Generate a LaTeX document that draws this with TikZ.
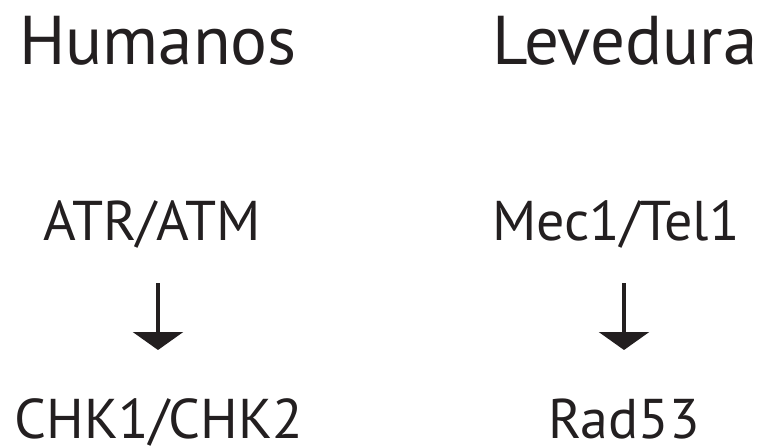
\documentclass[tikz,border=0pt]{standalone}
\usepackage{fontspec}
\setmainfont{PT Sans}
\usetikzlibrary{arrows.meta}
\definecolor{ink}{HTML}{231F20}
\tikzset{
  heading/.style={anchor=base, inner sep=0pt, text=ink, font=\fontsize{69}{69}\selectfont},
  gene/.style={anchor=base, inner sep=0pt, text=ink, font=\fontsize{56}{56}\selectfont},
  flow/.style={draw=ink, fill=ink, line width=3.2pt, -{Triangle[width=50pt,length=18pt]}}
}
\begin{document}
\begin{tikzpicture}[x=1pt,y=1pt]
  \useasboundingbox (0,0) rectangle (763,-447);
  % human pathway
  \node[heading] (hum) at (158,-64) {Humanos};
  \node[gene] (atr) at (152,-240) {ATR/ATM};
  \node[gene] (chk) at (159,-438) {CHK1/CHK2};
  \coordinate (h1) at (158,-283);
  \coordinate (h2) at (158,-350);
  \draw[flow] (h1) -- (h2);
  % yeast pathway
  \node[heading] (lev) at (625,-64) {Levedura};
  \node[gene] (mec) at (616,-240) {Mec1/Tel1};
  \node[gene] (rad) at (624,-438) {Rad53};
  \coordinate (y1) at (624,-283);
  \coordinate (y2) at (624,-350);
  \draw[flow] (y1) -- (y2);
\end{tikzpicture}
\end{document}
